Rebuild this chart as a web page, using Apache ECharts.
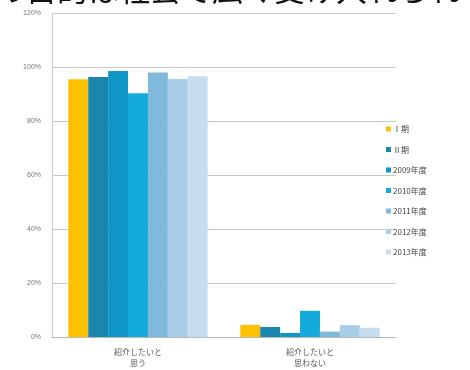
<!DOCTYPE html>
<html>
<head>
<meta charset="utf-8">
<script src="https://cdn.jsdelivr.net/npm/echarts@6/dist/echarts.min.js"></script>
<style>
  html, body { margin: 0; padding: 0; background: #fff; }
  #chart { width: 470px; height: 370px; }
</style>
</head>
<body>
<div id="chart"></div>
<script>
// Survey answers: would you recommend it to others?
const categories = ['紹介したいと\n思う', '紹介したいと\n思わない'];
const seriesNames = ['Ⅰ期', 'Ⅱ期', '2009年度', '2010年度', '2011年度', '2012年度', '2013年度'];
const valuesPhase1 = [95.5, 4.5];
const valuesPhase2 = [96.3, 3.7];
const values2009 = [98.5, 1.5];
const values2010 = [90.3, 9.7];
const values2011 = [98.0, 2.0];
const values2012 = [95.6, 4.4];
const values2013 = [96.6, 3.4];
const yTicks = [0, 20, 40, 60, 80, 100, 120];
const headline = 'の目的は社会で広く受け入れられ';

const seriesValues = [valuesPhase1, valuesPhase2, values2009, values2010, values2011, values2012, values2013];
const colors = ['#FFC000', '#1A86AE', '#0F95C6', '#14AADB', '#80B9DA', '#A9CDE7', '#C6DDF0'];

const chart = echarts.init(document.getElementById('chart'), null, { renderer: 'canvas' });

chart.setOption({
  animation: false,
  backgroundColor: '#fff',
  color: colors,
  graphic: [{
    type: 'text',
    left: -5,
    top: -26,
    z: 100,
    style: {
      text: headline,
      font: '31px "Noto Sans CJK JP"',
      fill: '#111'
    }
  }],
  legend: {
    orient: 'vertical',
    left: 381,
    top: 119,
    itemWidth: 5,
    itemHeight: 5,
    itemGap: 10.5,
    icon: 'rect',
    data: seriesNames,
    textStyle: {
      fontSize: 8,
      lineHeight: 10,
      color: '#444',
      fontFamily: '"Noto Sans CJK JP"',
      padding: [0, 0, 0, -3]
    }
  },
  grid: {
    left: 52,
    right: 74,
    top: 13,
    bottom: 33
  },
  xAxis: {
    type: 'category',
    data: categories,
    axisTick: { show: false },
    axisLine: { lineStyle: { color: '#b8b8b8', width: 1 } },
    axisLabel: {
      fontSize: 8,
      lineHeight: 11,
      color: '#555',
      margin: 9,
      fontFamily: '"Noto Sans CJK JP"'
    }
  },
  yAxis: {
    type: 'value',
    min: yTicks[0],
    max: yTicks[yTicks.length - 1],
    interval: 20,
    axisLine: { show: true, lineStyle: { color: '#c8c8c8' } },
    axisTick: { show: false },
    splitLine: { lineStyle: { color: '#c8c8c8' } },
    axisLabel: {
      formatter: '{value}%',
      fontSize: 7,
      color: '#777',
      margin: 11,
      showMaxLabel: true,
      showMinLabel: true,
      hideOverlap: false,
      fontFamily: 'Arial, "Liberation Sans"'
    }
  },
  series: seriesNames.map((name, i) => ({
    name: name,
    type: 'bar',
    data: seriesValues[i],
    barGap: '0%',
    barCategoryGap: '19%'
  }))
});
</script>
</body>
</html>
